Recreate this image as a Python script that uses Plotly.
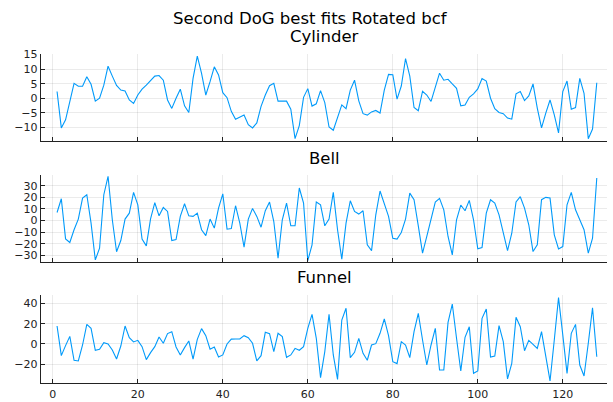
import plotly.graph_objects as go
from plotly.subplots import make_subplots

W, H = 613, 402

x_index = list(range(1, 129))

cylinder = [2.3, -10.2, -7.4, -1, 5.1, 4.1, 4.1, 7.4, 4.8, -1,
            0, 4.5, 11, 7.6, 4.4, 2.8, 2.5, -0.6, -1.8, 1.1,
            3.1, 4.5, 6, 7.6, 7.8, 6.2, -0.6, -3.5, 0, 3.1,
            -2.6, -4.9, 6.8, 14.5, 8.5, 1.1, 5.7, 10.8, 8, 1.9,
            0.2, -4.5, -7.2, -6.5, -5.8, -9.1, -10.2, -8.5, -2.8, 1.1,
            4.3, 5.1, -1, -1, -1, -3.8, -13.9, -9.4, 0.3, 3.3,
            -2.7, -1.9, 2.6, -1.5, -9.9, -11, -6.8, -2.3, -3.6, 2.8,
            6.2, -0.9, -5.3, -5.8, -4.7, -4.2, -5.1, 2.8, 8.2, 8.1,
            -0.3, 4.2, 13.6, 7.6, -3.2, -4.3, 2.4, 1.1, -1.1, 4,
            8.6, 6.2, 6.5, 4.9, 3.4, -2.6, -2.3, 0.3, 1.5, 3.2,
            6.8, 5.9, 0, -3.6, -4.9, -5.3, -6.8, -7.2, 1.5, 2.3,
            -0.8, 0.8, 4.9, -3.4, -10.2, -5.1, -0.6, -5.7, -11.9, 2.3,
            5.9, -3.8, -3.2, 6.8, 1.7, -13.9, -10.6, 5.3]

bell = [6.9, 18.7, -15.9, -19, -8, 1.2, 19.3, 22.2, -2.3, -34,
        -23.9, 22.2, 38, 0.6, -27, -17.3, 1.2, 6.3, 24.2, 13.5,
        -16.1, -21.9, 1.4, 15.3, 4, 11.2, 7.8, -17.3, -16.4, 3.5,
        14.4, 4, 3.5, 6.3, -8, -13, 1.2, -6.6, 10.7, 23,
        -7.5, -6.9, 12.7, -2.3, -23, 1.2, 10.4, 3.5, -5.8, 8.4,
        15.9, -0.9, -32.6, 0.6, 15, -4.6, -4.6, 28, 15, -34.6,
        -21, 15.9, 13.5, -4.6, 1.2, 24.2, -8, -33.4, -2.3, 17,
        7.8, 5.5, 8.4, -21, -26, 4.9, 25.4, 15, 3.5, -15.3,
        -16.1, -10.4, 1.2, 23.6, 17.9, -4.6, -28.2, -13.8, 0.6, 15.9,
        19, 9.2, -13.8, -29.7, 0.6, 13.3, 8.4, 17.3, 0.6, -24.5,
        -23.3, 6.3, 17.9, 15, 4.9, -9.5, -26, -11, 15.9, 20.5,
        10.7, -3.7, -26.8, -21, 17.9, 19.9, 19.3, -12.4, -24.5, -22.5,
        13.5, 24.2, 9.2, 0.6, -8, -28.2, -15.3, 36.6]

funnel = [17.7, -11.5, -1.6, 7.5, -16, -16.7, -1, 19.3, 15.4, -6.2,
          -5.2, 1.3, 0, -5.9, -14.8, -2, 17.7, 6.2, 2, 3.6,
          -2.6, -15.4, -8.5, -2.6, 6.9, 0.7, 10.2, 12.1, -3, -10.8,
          -3.6, 3, -14.8, 4.6, 15.1, 8.2, -5.2, -3, -12.8, -10.8,
          0, 4.8, 4.9, 4.9, 8.2, 6.2, 0.7, -16.7, -11.5, 11.5,
          10.2, -7.5, 10.5, 7.2, -13.1, -10.8, -4.3, -6.2, -2.6, 15.4,
          29.2, 5.6, -33.1, -7.5, 29.2, -10.8, -34.8, 23.6, 35.1, -13.4,
          -8.2, 5.6, -9.2, -16, -1, 0.3, 10.5, 24.6, 8.2, -17.4,
          -19.3, 2.3, -1, -13.4, 12.1, 30.2, 3.9, -20.7, -1, 15.4,
          -25.6, -25.6, 21.3, 39.3, 5.6, -26.6, 6.6, 17, -28.9, -26.6,
          25.2, 34.4, -12.8, -11.8, 18, 2.3, -34.4, -19, 26.2, 17,
          -6.6, 3.6, -0.3, -4.3, 12.1, -10.8, -36.4, 3.9, 45.6, 8.9,
          -28.9, 10.5, 19.3, -20.7, -31.5, 0.7, 35.7, -12.5]

main_title = "Second DoG best fits Rotated bcf"
subplot_titles = ["Cylinder", "Bell", "Funnel"]
x_ticks = [0, 20, 40, 60, 80, 100, 120]
y_ticks = [[-10, -5, 0, 5, 10, 15], [-30, -20, -10, 0, 10, 20, 30], [-20, 0, 20, 40]]
y_ranges = [[-14.7, 15.2], [-35.8, 39.2], [-38.7, 48.2]]
x_range = [-2.85, 130.5]

series = [cylinder, bell, funnel]
LINE = "#009AFA"
FONT = "DejaVu Sans"

fig = make_subplots(rows=3, cols=1)

# pixel geometry of each panel (top, bottom)
panels_px = [(54, 141), (175, 262), (295, 383.3)]
x_left, x_right = 40.7, 607.4
title_px = [37, 158, 277]

for k, ys in enumerate(series):
    r = k + 1
    fig.add_trace(go.Scatter(x=x_index, y=ys, mode="lines",
                             line=dict(color=LINE, width=1.1),
                             showlegend=False, hoverinfo="skip"), row=r, col=1)
    top, bot = panels_px[k]
    axis_common = dict(showline=True, linecolor="#222222", linewidth=1,
                       ticks="inside", ticklen=4, tickcolor="#222222", tickwidth=1,
                       showgrid=True, gridcolor="rgba(0,0,0,0.1)", gridwidth=0.8,
                       zeroline=False, mirror=False, automargin=False,
                       tickfont=dict(family=FONT, size=11, color="#222222"))
    fig.update_xaxes(range=x_range, tickvals=x_ticks,
                     showticklabels=(k == 2),
                     domain=[x_left / W, x_right / W],
                     **axis_common, row=r, col=1)
    fig.update_yaxes(range=y_ranges[k], tickvals=y_ticks[k],
                     domain=[1 - bot / H, 1 - top / H],
                     **axis_common, row=r, col=1)

annotations = [dict(text=main_title, x=310 / W, y=1 - 18 / H,
                    xref="paper", yref="paper", showarrow=False,
                    font=dict(family=FONT, size=16.5, color="black"),
                    xanchor="center", yanchor="middle")]
for k, t in enumerate(subplot_titles):
    annotations.append(dict(text=t, x=0.5 * (x_left + x_right) / W, y=1 - title_px[k] / H,
                            xref="paper", yref="paper", showarrow=False,
                            font=dict(family=FONT, size=16.5, color="black"),
                            xanchor="center", yanchor="middle"))

fig.update_layout(width=W, height=H, margin=dict(l=0, r=0, t=0, b=0, autoexpand=False),
                  paper_bgcolor="white", plot_bgcolor="white",
                  annotations=annotations, font=dict(family=FONT))

fig.write_html("out.html", config={"displayModeBar": False, "staticPlot": True},
               post_script="document.body.style.margin='0px';document.body.style.padding='0px';")
